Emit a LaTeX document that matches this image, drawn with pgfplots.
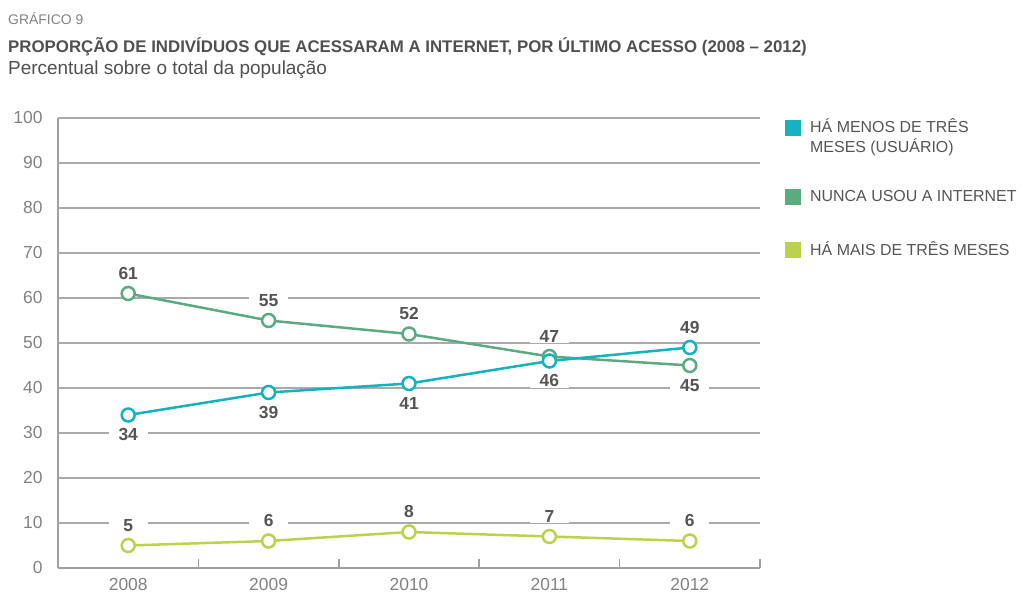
\documentclass[border=0pt]{standalone}
\usepackage{fontspec}
\setmainfont{Liberation Sans}
\usepackage{pgfplots}
\pgfplotsset{compat=1.18}
\usepackage{pgfplotstable}

\definecolor{cyanc}{RGB}{20,178,190}
\definecolor{greenc}{RGB}{92,170,128}
\definecolor{limec}{RGB}{188,210,76}
\definecolor{axisgray}{RGB}{160,160,160}
\definecolor{gridgray}{RGB}{170,170,170}
\definecolor{labelgray}{RGB}{130,130,130}
\definecolor{labeldark}{RGB}{85,85,85}
\definecolor{titlegray}{RGB}{80,80,80}

\pgfplotstableread{
x y pos
0 34 -1
1 39 -1
2 41 -1
3 46 -1
4 49 1
}\usuario
\pgfplotstableread{
x y pos
0 61 1
1 55 1
2 52 1
3 47 1
4 45 -1
}\nunca
\pgfplotstableread{
x y pos
0 5 1
1 6 1
2 8 1
3 7 1
4 6 1
}\mais

\begin{document}
\begin{tikzpicture}[x=1bp,y=1bp]
\useasboundingbox (0,0) rectangle (1022,597);
% titles
\node[anchor=base west, inner sep=0, text=labelgray, font=\fontsize{14}{14}\selectfont] at (8,572) {GRÁFICO 9};
\node[anchor=base west, inner sep=0, text=titlegray, font=\bfseries\fontsize{16.9}{16.9}\selectfont] at (8,544) {PROPORÇÃO DE INDIVÍDUOS QUE ACESSARAM A INTERNET, POR ÚLTIMO ACESSO (2008 – 2012)};
\node[anchor=base west, inner sep=0, text=titlegray, font=\fontsize{19}{19}\selectfont] at (8,522) {Percentual sobre o total da população};
% legend
\fill[cyanc] (785,461) rectangle (801,477);
\node[anchor=base west, inner sep=0, text=labeldark, font=\fontsize{16}{20}\selectfont] at (810,464) {HÁ MENOS DE TRÊS};
\node[anchor=base west, inner sep=0, text=labeldark, font=\fontsize{16}{20}\selectfont] at (810,444) {MESES (USUÁRIO)};
\fill[greenc] (785,392) rectangle (801,408);
\node[anchor=base west, inner sep=0, text=labeldark, font=\fontsize{16}{20}\selectfont] at (810,395) {NUNCA USOU A INTERNET};
\fill[limec] (785,339) rectangle (801,355);
\node[anchor=base west, inner sep=0, text=labeldark, font=\fontsize{16}{20}\selectfont] at (810,341) {HÁ MAIS DE TRÊS MESES};

\begin{axis}[
  at={(58bp,29bp)}, anchor=south west,
  scale only axis, width=702bp, height=450bp,
  xmin=-0.5, xmax=4.5, ymin=0, ymax=100,
  axis x line*=bottom, axis y line*=left,
  ytick={0,10,...,100}, ymajorgrids,
  grid style={gridgray, line width=1.3bp},
  xtick={0,1,2,3,4}, xticklabels={2008,2009,2010,2011,2012},
  minor xtick={0.5,1.5,2.5,3.5,4.5},
  tick align=inside, major tick length=0pt, minor tick length=9bp,
  axis line style={line width=1.5bp, color=axisgray, -},
  minor tick style={line width=1.5bp, color=axisgray},
  ticklabel style={font=\fontsize{17.5}{17.5}\selectfont, text=labelgray},
  yticklabel style={xshift=-12bp},
  xticklabel style={yshift=-9bp, inner sep=1bp},
  /pgf/number format/assume math mode=true,
  clip=false,
  every axis plot/.append style={line width=2.5bp, mark=*, mark size=6.5bp,
     mark options={fill=white, line width=2.5bp},
     nodes near coords, point meta=explicit,
     visualization depends on={\thisrow{pos}\as\lpos},
     every node near coord/.style={anchor=center, yshift=\lpos*20bp, fill=white,
        minimum width=39bp, inner xsep=2bp, inner ysep=1bp, text=labeldark,
        font=\bfseries\fontsize{17.5}{17.5}\selectfont}},
]
\addplot[greenc] table[x=x,y=y,meta=y] {\nunca};
\addplot[limec] table[x=x,y=y,meta=y] {\mais};
\addplot[cyanc] table[x=x,y=y,meta=y] {\usuario};
\end{axis}
\end{tikzpicture}
\end{document}
